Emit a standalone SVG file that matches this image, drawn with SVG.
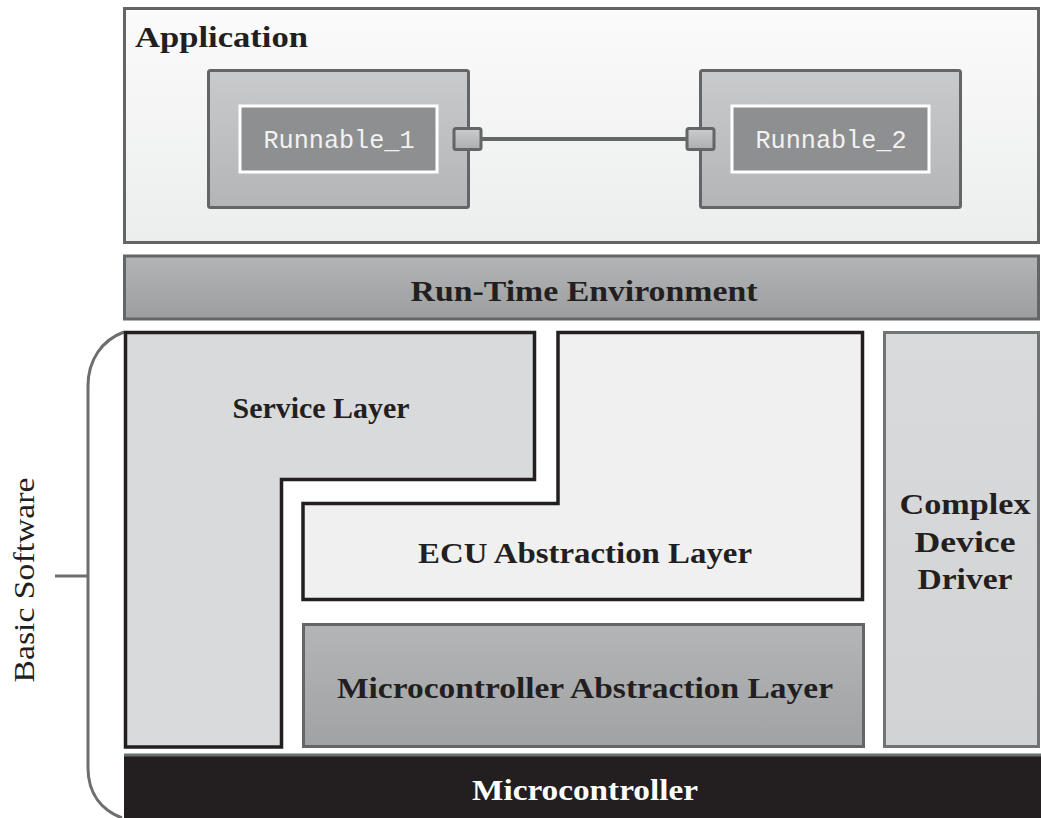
<svg xmlns="http://www.w3.org/2000/svg" width="1041" height="818" viewBox="0 0 1041 818">
<defs>
<linearGradient id="gApp" x1="0" y1="0" x2="0" y2="1"><stop offset="0" stop-color="#fbfbfb"/><stop offset="1" stop-color="#eceded"/></linearGradient>
<linearGradient id="gRun" x1="0" y1="0" x2="0" y2="1"><stop offset="0" stop-color="#c9cacc"/><stop offset="1" stop-color="#b4b5b7"/></linearGradient>
<linearGradient id="gPort" x1="0" y1="0" x2="0" y2="1"><stop offset="0" stop-color="#cbcccd"/><stop offset="1" stop-color="#acadaf"/></linearGradient>
<linearGradient id="gRte" x1="0" y1="0" x2="0" y2="1"><stop offset="0" stop-color="#b3b4b6"/><stop offset="1" stop-color="#9d9ea0"/></linearGradient>
<linearGradient id="gMcal" x1="0" y1="0" x2="0" y2="1"><stop offset="0" stop-color="#b4b5b7"/><stop offset="1" stop-color="#a0a2a4"/></linearGradient>
<linearGradient id="gCdd" x1="0" y1="0" x2="0" y2="1"><stop offset="0" stop-color="#d9dadc"/><stop offset="1" stop-color="#d2d3d5"/></linearGradient>
</defs>
<style>
.gb{stroke:#646567;stroke-width:3}
.blk{stroke:#231f20;stroke-width:3.5}
.lbl{font-family:"Liberation Serif","Times New Roman",serif;font-weight:bold;font-size:29px;fill:#231f20;text-anchor:middle}
.mono{font-family:"Liberation Mono","DejaVu Sans Mono",monospace;font-size:25px;fill:#f2f2f2;text-anchor:middle}
</style>
<rect width="1041" height="818" fill="#ffffff"/>

<g id="application">
<rect x="124.5" y="8.5" width="914" height="234" fill="url(#gApp)" class="gb"/>
<text x="135" y="47" class="lbl" style="text-anchor:start;font-size:30px" textLength="173" lengthAdjust="spacingAndGlyphs">Application</text>
</g>

<g id="runnable1">
<rect x="208.5" y="70.5" width="260" height="137" rx="2" fill="url(#gRun)" class="gb"/>
<rect x="240" y="106" width="197" height="66" fill="#8e8f91" stroke="#ffffff" stroke-width="3"/>
<text x="339" y="148" class="mono" textLength="151" lengthAdjust="spacingAndGlyphs">Runnable_1</text>
<rect x="454" y="128.5" width="27" height="21" rx="2" fill="url(#gPort)" class="gb"/>
</g>

<g id="runnable2">
<rect x="700.5" y="70.5" width="260" height="137" rx="2" fill="url(#gRun)" class="gb"/>
<rect x="732" y="106" width="197" height="66" fill="#8e8f91" stroke="#ffffff" stroke-width="3"/>
<text x="831" y="148" class="mono" textLength="151" lengthAdjust="spacingAndGlyphs">Runnable_2</text>
<rect x="687" y="128.5" width="27" height="21" rx="2" fill="url(#gPort)" class="gb"/>
</g>

<g id="connectors">
<line x1="481" y1="139" x2="687" y2="139" stroke="#646567" stroke-width="4"/>
<path d="M 124 332 C 102 340 88 360 88 386 L 88 768 C 88 794 102 810 122 818" fill="none" stroke="#6d6e70" stroke-width="3"/>
<line x1="55" y1="576" x2="88" y2="576" stroke="#6d6e70" stroke-width="3"/>
</g>

<g id="rte">
<rect x="124.5" y="256" width="914" height="63" fill="url(#gRte)" class="gb"/>
<text x="584" y="301" class="lbl" textLength="347" lengthAdjust="spacingAndGlyphs">Run-Time Environment</text>
</g>

<g id="service-layer">
<path d="M 125.5 332.5 L 534.5 332.5 L 534.5 479.5 L 281.5 479.5 L 281.5 747 L 125.5 747 Z" fill="#d9dadc" class="blk"/>
<text x="321" y="418" class="lbl" textLength="177" lengthAdjust="spacingAndGlyphs">Service Layer</text>
</g>

<g id="ecu-abstraction-layer">
<path d="M 558 332.5 L 862.5 332.5 L 862.5 599.5 L 303 599.5 L 303 503.5 L 558 503.5 Z" fill="#f0f0f0" class="blk"/>
<text x="585" y="563" class="lbl" textLength="334" lengthAdjust="spacingAndGlyphs">ECU Abstraction Layer</text>
</g>

<g id="mcal">
<rect x="303.5" y="624.5" width="560" height="122" fill="url(#gMcal)" class="gb"/>
<text x="585" y="698" class="lbl" textLength="496" lengthAdjust="spacingAndGlyphs">Microcontroller Abstraction Layer</text>
</g>

<g id="complex-device-driver">
<rect x="884.5" y="332.5" width="154" height="414" fill="url(#gCdd)" stroke="#727375" stroke-width="3"/>
<text x="965" y="514" class="lbl" textLength="131" lengthAdjust="spacingAndGlyphs">Complex</text>
<text x="965" y="552" class="lbl" textLength="101" lengthAdjust="spacingAndGlyphs">Device</text>
<text x="965" y="589" class="lbl" textLength="95" lengthAdjust="spacingAndGlyphs">Driver</text>
</g>

<g id="microcontroller">
<rect x="124" y="754" width="917" height="64" fill="#231f20"/>
<line x1="124" y1="755" x2="1041" y2="755" stroke="#6d6e70" stroke-width="3"/>
<text x="585" y="800" class="lbl" style="fill:#ffffff" textLength="226" lengthAdjust="spacingAndGlyphs">Microcontroller</text>
</g>

<g id="basic-software-label">
<text transform="translate(34 580) rotate(-90)" style="font-family:'Liberation Serif','Times New Roman',serif;font-size:30px;fill:#231f20;text-anchor:middle" textLength="205" lengthAdjust="spacingAndGlyphs">Basic Software</text>
</g>
</svg>
